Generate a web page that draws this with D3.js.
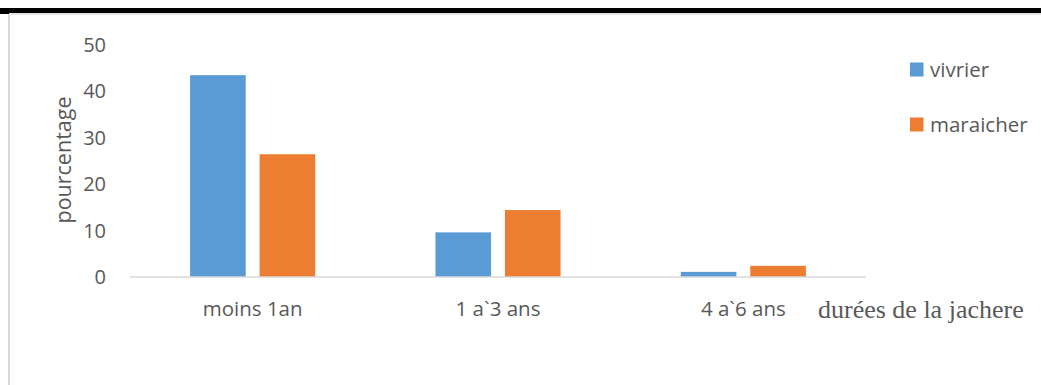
<!DOCTYPE html>
<html>
<head>
<meta charset="utf-8">
<script src="https://cdn.jsdelivr.net/npm/d3@7"></script>
<style>
  html, body { margin: 0; padding: 0; background: #fff; }
  svg { display: block; }
</style>
</head>
<body>
<svg id="chart" width="1041" height="385"></svg>
<script>
// Durée de la jachère par type de culture (%)
const categories = ["moins 1an", "1 a`3 ans", "4 a`6 ans"];
const seriesNames = ["vivrier", "maraicher"];
const vivrier = [43.4, 9.6, 1.1];
const maraicher = [26.4, 14.4, 2.4];
const yTicks = [0, 10, 20, 30, 40, 50];
const colors = ["#5B9BD5", "#ED7D31"];

const rows = categories.map((c, i) => ({ cat: c, values: [vivrier[i], maraicher[i]] }));

const svg = d3.select("#chart");
const textColor = "#595959";
const font = "'Open Sans', 'Noto Sans', sans-serif";

// page frame: heavy rule on top, thin grey border on the left
svg.append("rect").attr("x", 0).attr("y", 8).attr("width", 1041).attr("height", 5).attr("fill", "#000");
svg.append("rect").attr("x", 0).attr("y", 8).attr("width", 9).attr("height", 6).attr("fill", "#000");
svg.append("line").attr("x1", 9).attr("x2", 1041).attr("y1", 14).attr("y2", 14)
  .attr("stroke", "#d9d9d9").attr("stroke-width", 1.5);
svg.append("line").attr("x1", 9).attr("x2", 9).attr("y1", 14).attr("y2", 385)
  .attr("stroke", "#d9d9d9").attr("stroke-width", 2);

const x0 = d3.scaleBand().domain(categories).range([130, 866]).paddingInner(0.49).paddingOuter(0.245);
const x1 = d3.scaleBand().domain(d3.range(seriesNames.length)).range([0, x0.bandwidth()]).paddingInner(0.2);
const y = d3.scaleLinear().domain([0, 50]).range([277, 44.5]);

// y tick labels
svg.append("g").selectAll("text").data(yTicks).join("text")
  .attr("x", 106).attr("y", d => y(d)).attr("dy", "0.35em")
  .attr("text-anchor", "end")
  .attr("font-family", font).attr("font-size", 20).attr("fill", textColor)
  .text(d => d);

// y axis title
svg.append("text")
  .attr("transform", "translate(71,160) rotate(-90)")
  .attr("text-anchor", "middle")
  .attr("font-family", font).attr("font-size", 21.5).attr("fill", textColor)
  .text("pourcentage");

// bars
const groups = svg.append("g").selectAll("g").data(rows).join("g")
  .attr("transform", d => `translate(${x0(d.cat)},0)`);
groups.selectAll("rect").data(d => d.values).join("rect")
  .attr("x", (d, i) => x1(i))
  .attr("width", x1.bandwidth())
  .attr("y", d => y(d))
  .attr("height", d => y(0) - y(d))
  .attr("fill", (d, i) => colors[i]);

// baseline
svg.append("line").attr("x1", 130).attr("x2", 866).attr("y1", y(0)).attr("y2", y(0))
  .attr("stroke", "#d9d9d9").attr("stroke-width", 1.5);

// category labels
svg.append("g").selectAll("text").data(categories).join("text")
  .attr("x", d => x0(d) + x0.bandwidth() / 2).attr("y", 309).attr("dy", "0.35em")
  .attr("text-anchor", "middle")
  .attr("font-family", font).attr("font-size", 20.5).attr("fill", textColor)
  .text(d => d);

// x axis title
svg.append("text").attr("x", 818).attr("y", 309).attr("dy", "0.35em")
  .attr("font-family", "'Liberation Serif', 'DejaVu Serif', serif").attr("font-size", 26)
  .attr("fill", textColor)
  .text("durées de la jachere");

// legend
const legend = svg.append("g").selectAll("g").data(seriesNames).join("g")
  .attr("transform", (d, i) => `translate(910,${69.5 + i * 55})`);
legend.append("rect").attr("x", 0).attr("y", -7).attr("width", 13.5).attr("height", 14)
  .attr("fill", (d, i) => colors[i]);
legend.append("text").attr("x", 20).attr("y", 0).attr("dy", "0.35em")
  .attr("font-family", font).attr("font-size", 20.5).attr("fill", textColor)
  .text(d => d);
</script>
</body>
</html>
